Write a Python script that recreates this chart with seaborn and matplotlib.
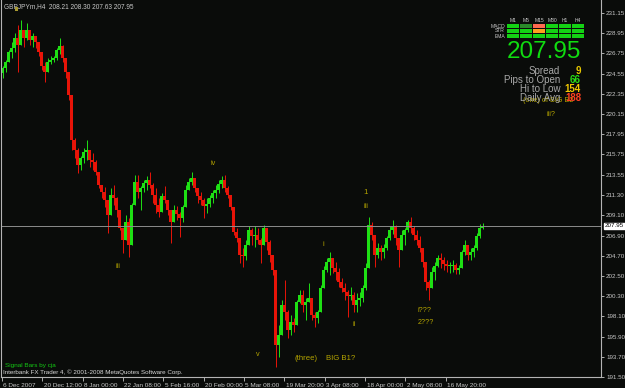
import numpy as np
import pandas as pd
import matplotlib
matplotlib.use("Agg")
import matplotlib.pyplot as plt
import matplotlib.transforms as mtransforms
from matplotlib.patches import Rectangle
import seaborn as sns

# ---------------- data ----------------
symbol_line = "GBPJPYm,H4  208.21 208.30 207.63 207.95"
first_open = 224.60
highs = [225.38, 226.03, 227.12, 227.99, 228.97, 229.85, 230.39, 229.30, 230.06, 228.97,
         228.97, 228.65, 227.99, 226.58, 225.81, 226.25, 226.47, 226.47, 227.34, 228.43,
         227.67, 226.03, 224.73, 221.13, 217.54, 216.45, 215.58, 216.45, 217.32, 216.01,
         215.90, 215.14, 213.83, 212.42, 212.20, 210.78, 212.09, 212.42, 211.11, 209.47,
         207.73, 209.15, 208.82, 210.46, 213.51, 213.51, 212.31, 212.96, 213.40, 213.83,
         212.63, 212.09, 211.00, 211.55, 212.31, 210.78, 209.69, 210.24, 210.13, 209.47,
         210.24, 212.42, 213.18, 213.83, 213.18, 212.09, 211.65, 211.00, 211.00, 211.33,
         211.87, 212.42, 212.96, 213.40, 213.51, 212.31, 211.33, 210.02, 207.73, 206.64,
         205.55, 206.43, 207.95, 207.73, 207.95, 207.73, 206.64, 208.06, 207.73, 206.43,
         204.79, 202.61, 197.17, 199.89, 202.07, 198.80, 198.26, 197.93, 199.89, 200.98,
         200.98, 200.11, 201.74, 199.89, 198.58, 198.80, 201.52, 203.59, 204.46, 205.12,
         204.46, 204.03, 203.38, 202.29, 201.74, 200.98, 201.31, 200.76, 200.65, 200.76,
         201.52, 203.92, 208.93, 208.39, 205.88, 206.10, 205.88, 205.99, 206.86, 207.95,
         208.60, 208.06, 206.21, 207.51, 207.73, 208.60, 208.93, 207.95, 207.51, 206.86,
         205.34, 203.70, 202.07, 203.48, 204.03, 204.79, 205.01, 204.57, 204.25, 204.03,
         204.25, 203.92, 203.70, 205.34, 206.43, 205.88, 205.55, 205.88, 207.19, 208.21,
         208.30]
lows = [224.07, 224.73, 225.81, 226.25, 226.90, 224.73, 228.21, 227.45, 228.21, 227.67,
        227.45, 227.34, 226.47, 224.94, 223.64, 224.73, 225.60, 225.81, 226.03, 226.69,
        225.81, 224.07, 221.68, 216.23, 215.36, 213.72, 214.05, 214.81, 215.14, 214.38,
        214.05, 213.51, 212.09, 211.00, 210.02, 207.19, 209.47, 210.24, 208.93, 207.51,
        205.01, 206.97, 204.57, 207.51, 210.24, 211.00, 209.69, 211.65, 211.87, 212.09,
        210.46, 209.37, 208.93, 210.24, 210.46, 209.15, 206.10, 208.39, 208.60, 206.75,
        208.39, 210.02, 211.87, 212.42, 211.65, 210.46, 210.24, 208.82, 209.37, 210.02,
        210.46, 211.00, 211.55, 212.09, 211.65, 211.00, 209.69, 206.97, 206.21, 203.92,
        203.48, 204.25, 206.21, 205.88, 205.66, 205.99, 203.92, 206.21, 205.34, 204.03,
        202.61, 192.59, 193.68, 196.62, 197.71, 195.75, 196.08, 196.40, 197.17, 199.56,
        198.58, 197.71, 199.89, 197.71, 196.95, 197.38, 199.34, 201.20, 202.94, 202.61,
        202.83, 202.07, 201.31, 200.76, 199.89, 198.04, 199.89, 198.58, 198.58, 199.24,
        199.67, 200.98, 204.03, 206.43, 203.48, 204.46, 204.25, 204.46, 205.34, 206.43,
        207.08, 205.88, 203.48, 205.34, 205.88, 207.30, 207.19, 206.43, 205.88, 205.12,
        203.48, 200.98, 199.89, 201.52, 202.07, 203.48, 203.38, 203.16, 202.94, 202.83,
        202.94, 202.72, 202.72, 203.38, 204.79, 204.25, 204.25, 204.57, 205.34, 206.64,
        207.63]
closes = [225.16, 225.81, 226.90, 227.34, 228.43, 227.67, 229.30, 228.43, 229.30, 228.21,
          228.65, 227.99, 226.90, 225.38, 224.73, 225.81, 226.03, 226.25, 227.12, 227.56,
          226.25, 224.73, 222.22, 217.32, 216.23, 214.59, 215.36, 216.01, 216.23, 215.14,
          214.92, 213.83, 212.42, 211.65, 210.78, 209.15, 211.33, 211.00, 209.69, 207.73,
          206.43, 208.39, 205.88, 210.24, 212.74, 211.65, 212.09, 212.63, 212.96, 212.42,
          211.33, 210.24, 209.47, 211.22, 210.78, 209.69, 208.39, 209.69, 209.26, 208.82,
          210.02, 211.87, 212.74, 213.18, 212.09, 211.22, 210.78, 210.13, 210.35, 211.00,
          211.55, 211.87, 212.53, 212.96, 212.09, 211.33, 210.02, 207.30, 206.64, 204.79,
          204.68, 205.88, 207.51, 206.86, 206.97, 206.43, 205.88, 207.73, 206.21, 204.79,
          203.16, 194.99, 196.08, 199.34, 198.58, 196.62, 197.49, 197.17, 199.67, 200.43,
          199.34, 199.67, 200.11, 198.26, 197.93, 198.58, 201.20, 203.16, 204.03, 204.46,
          203.38, 202.94, 201.85, 201.20, 200.76, 200.33, 200.43, 199.34, 199.89, 200.11,
          201.20, 203.38, 208.06, 206.97, 204.79, 205.55, 205.12, 205.55, 206.64, 207.51,
          207.95, 206.64, 205.34, 206.97, 207.51, 208.39, 207.73, 206.97, 206.43, 205.55,
          204.03, 201.85, 201.20, 202.94, 203.59, 204.46, 204.25, 203.81, 203.59, 203.59,
          203.70, 203.16, 203.38, 205.12, 205.88, 204.79, 205.12, 205.55, 206.86, 207.73,
          207.95]
y_tick_values = [231.15, 228.95, 226.75, 224.55, 222.35, 220.15, 217.95, 215.75, 213.55,
                 211.30, 209.10, 206.90, 204.70, 202.50, 200.30, 198.10, 195.90, 193.70, 191.50]
x_tick_labels = ["6 Dec 2007", "20 Dec 12:00", "8 Jan 00:00", "22 Jan 08:00", "5 Feb 16:00",
                 "20 Feb 00:00", "5 Mar 08:00", "19 Mar 20:00", "3 Apr 08:00", "18 Apr 00:00",
                 "2 May 08:00", "16 May 20:00"]
last_price = 207.95
tf_labels = ["M1", "M5", "M15", "M30", "H1", "H4"]
row_labels = ["MACD", "STR", "EMA"]
stat_labels = ["Spread", "Pips to Open", "Hi to Low", "Daily Avg"]
stat_values = ["9", "66", "154", "188"]
wave_labels = ["iv", "iii", "v", "(three)", "BIG B1?", "i", "ii", "1", "iii", "i???", "2???",
               "(one) of BIG B2", "iii?"]

# ---------------- build table ----------------
df = pd.DataFrame({"high": highs, "low": lows, "close": closes})
df["open"] = [first_open] + closes[:-1]
df["high"] = df[["high", "open", "close"]].max(axis=1)
df["low"] = df[["low", "open", "close"]].min(axis=1)
df["idx"] = np.arange(len(df))
df["up"] = df["close"] >= df["open"]

BG = "#0a0c0a"
UP = "#1ee014"
DN = "#e81408"
TXT = "#c8c8c8"
OLIVE = "#b4a400"

sns.set_theme(style="dark")
plt.rcParams["font.family"] = ["Liberation Sans", "DejaVu Sans"]

fig = plt.figure(figsize=(6.25, 3.88), dpi=100, facecolor=BG)
W, H = 625.0, 388.0
ax = fig.add_axes([1 / W, 11 / H, 600 / W, 377 / H])
ax.set_facecolor(BG)
ax.grid(False)

cols = np.where(df["up"], UP, DN)
ax.vlines(df["idx"], df["low"], df["high"], colors=cols, linewidth=0.7)
body_h = (df["close"] - df["open"]).abs().clip(lower=0.08)
body_b = df[["open", "close"]].min(axis=1)
ax.bar(df["idx"], body_h, bottom=body_b, width=0.7, color=cols, linewidth=0)

ax.axhline(last_price, color="#8c8c8c", linewidth=0.7)

ax.set_xlim(-0.5, 199.5)
ax.set_ylim(191.5, 232.57)

# y axis on the right
ax.yaxis.tick_right()
ax.set_yticks(y_tick_values)
ax.set_yticklabels([f"{v:.2f}" for v in y_tick_values])
ax.tick_params(axis="y", colors=TXT, labelsize=4.5, length=2.5, width=0.6, pad=1.2,
               direction="out", right=True, left=False)

# x axis
xt = -0.2 + 13.45 * np.arange(len(x_tick_labels))
ax.set_xticks(xt)
ax.set_xticklabels(x_tick_labels, ha="left")
ax.tick_params(axis="x", colors=TXT, labelsize=4.6, length=3, width=0.6, pad=1.5,
               direction="out", bottom=True)
for lbl in ax.get_xticklabels():
    lbl.set_transform(lbl.get_transform() + mtransforms.ScaledTranslation(1.5 / 100, 0, fig.dpi_scale_trans))

for side in ["left", "right", "bottom"]:
    ax.spines[side].set_visible(True)
    ax.spines[side].set_color("#b4b4b4")
    ax.spines[side].set_linewidth(0.8)
ax.spines["top"].set_visible(False)

# price box on right axis
trans = mtransforms.blended_transform_factory(ax.transAxes, ax.transData)
ax.text(1.0065, last_price, f"{last_price:.2f}", transform=trans, fontsize=4.5, color="black",
        va="center", ha="left",
        bbox=dict(boxstyle="square,pad=0.12", facecolor="white", edgecolor="white"))


def ftext(px, py, s, **kw):
    fig.text(px / W, 1 - py / H, s, **kw)


# header
ftext(4, 7, symbol_line, fontsize=4.7, color=TXT, va="center", ha="left")
fig.patches.append(Rectangle((15 / W, 1 - 11 / H), 3 / W, 4 / H, transform=fig.transFigure,
                             facecolor="#a89a30", edgecolor="none"))

# footer texts
ftext(5, 365, "Signal Bars by cja", fontsize=4.6, color="#14c814", va="center", ha="left")
ftext(3, 372.5, "Interbank FX Trader 4, \u00a9 2001-2008 MetaQuotes Software Corp.",
      fontsize=4.5, color="#d8d8d8", va="center", ha="left")

# wave labels
wave_pos = [(213, 163), (118, 266), (258, 354), (306, 359), (341, 358), (323, 245), (354, 325),
            (366, 193), (366, 207), (424, 310), (426, 322), (548, 100), (551, 114)]
wave_sizes = [5.2, 5.2, 5.2, 5.6, 5.6, 5.2, 5.2, 5.6, 5.2, 5.2, 5.2, 5.2, 5.2]
for s, (px, py), fs in zip(wave_labels, wave_pos, wave_sizes):
    ftext(px, py, s, fontsize=fs, color=OLIVE, va="center", ha="center")

# signal bars panel
col_x = [513, 526, 539, 552, 565, 578]
row_y = [26, 31, 36]
cell_colors = [["#14d214", "#2a8a2a", "#ff6a50", "#14d214", "#14d214", "#14d214"],
               ["#14d214", "#14d214", "#ffa020", "#14d214", "#14d214", "#14d214"],
               ["#14d214", "#14d214", "#14d214", "#14d214", "#14d214", "#14d214"]]
for j, lab in enumerate(tf_labels):
    ftext(col_x[j], 20.5, lab, fontsize=3.6, color=TXT, va="center", ha="center")
for i, lab in enumerate(row_labels):
    ftext(505, row_y[i], lab, fontsize=3.6, color=TXT, va="center", ha="right")
    for j in range(len(tf_labels)):
        fig.patches.append(Rectangle(((col_x[j] - 6) / W, 1 - (row_y[i] + 1.8) / H), 12 / W, 3.6 / H,
                                     transform=fig.transFigure, facecolor=cell_colors[i][j],
                                     edgecolor="none"))

ftext(544, 52, f"{last_price:.2f}", fontsize=17.5, color="#10dc10", va="center", ha="center")

stat_y = [71, 80, 89, 98]
stat_colors = ["#e8c800", "#28e014", "#f0c800", "#ff4020"]
for lab, val, py, c in zip(stat_labels, stat_values, stat_y, stat_colors):
    ftext(560, py, lab, fontsize=7, color="#a8a8a8", va="center", ha="right")
    ftext(581, py, val, fontsize=7, color=c, va="center", ha="right", fontweight="bold")

fig.savefig("out.png", dpi=100, facecolor=BG)
